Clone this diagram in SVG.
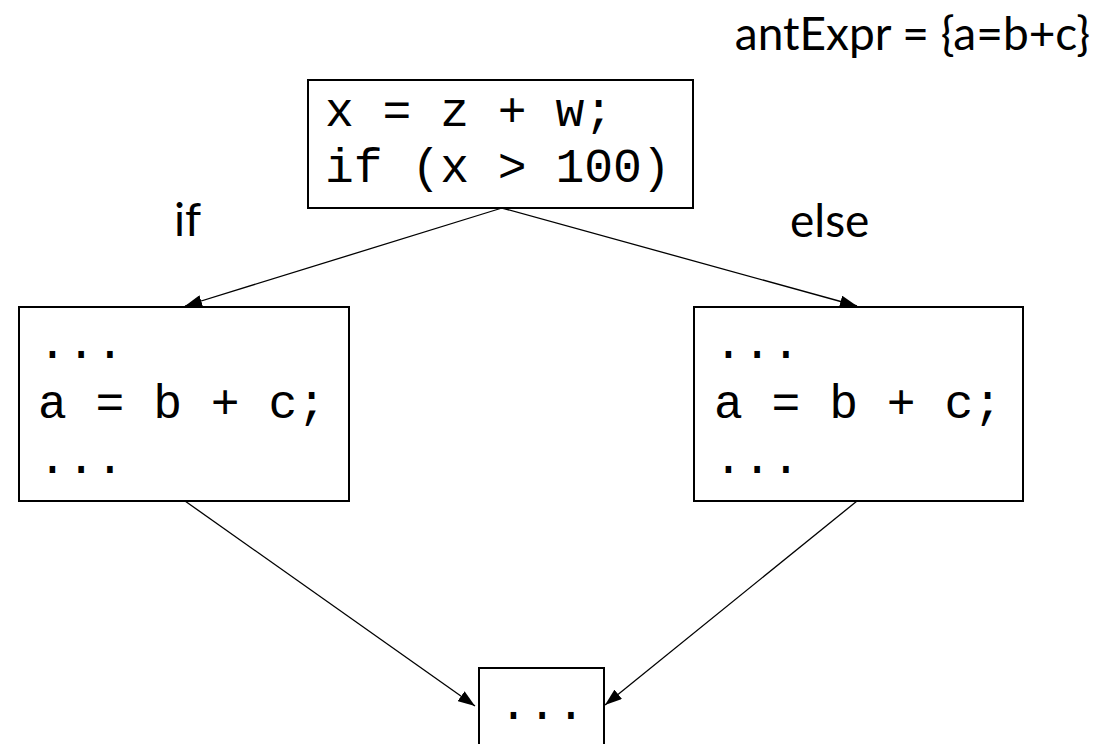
<svg xmlns="http://www.w3.org/2000/svg" width="1104" height="744" viewBox="0 0 1104 744">
<defs>
<marker id="arr" markerWidth="17" markerHeight="12" refX="17" refY="6" orient="auto" markerUnits="userSpaceOnUse" viewBox="0 0 17 12">
<path d="M0,0 L17,6 L0,12 z" fill="#000"/>
</marker>
</defs>
<style>
.box{fill:#fff;stroke:#000;stroke-width:2}
.code{font-family:"Liberation Mono","Courier New",monospace;font-size:48px;fill:#000}
.lbl{font-family:Lato,"Open Sans",sans-serif;font-size:46px;fill:#000}
.edge{stroke:#000;stroke-width:1.3;fill:none}
</style>
<rect width="1104" height="744" fill="#fff"/>
<text class="lbl" x="1090" y="50" text-anchor="end">antExpr = {a=b+c}</text>
<text class="lbl" x="174" y="236">if</text>
<text class="lbl" x="790" y="237">else</text>
<g id="connectors">
<line class="edge" x1="502" y1="208" x2="185" y2="306" marker-end="url(#arr)"/>
<line class="edge" x1="502" y1="208" x2="857" y2="306" marker-end="url(#arr)"/>
<line class="edge" x1="185" y1="501" x2="475" y2="706" marker-end="url(#arr)"/>
<line class="edge" x1="857" y1="501" x2="605" y2="705" marker-end="url(#arr)"/>
</g>
<g id="n_top">
<rect class="box" x="308" y="80" width="385" height="128"/>
<text class="code" x="325" y="126">x = z + w;</text>
<text class="code" x="325" y="182">if (x &gt; 100)</text>
</g>
<g id="n_left">
<rect class="box" x="19" y="307" width="330" height="194"/>
<text class="code" x="38" y="358">...</text>
<text class="code" x="38" y="418">a = b + c;</text>
<text class="code" x="38" y="473">...</text>
</g>
<g id="n_right">
<rect class="box" x="694" y="307" width="329" height="194"/>
<text class="code" x="714" y="358">...</text>
<text class="code" x="714" y="418">a = b + c;</text>
<text class="code" x="714" y="473">...</text>
</g>
<g id="n_bottom">
<rect class="box" x="479" y="668" width="125" height="90"/>
<text class="code" x="499" y="719">...</text>
</g>
</svg>
